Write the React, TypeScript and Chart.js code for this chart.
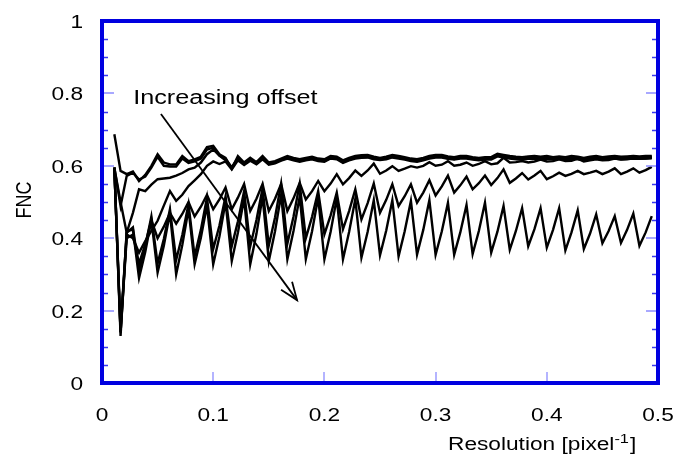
import React, { useEffect, useRef } from "react";
import { Chart, registerables } from "chart.js";

Chart.register(...registerables);

// Resolution [pixel^-1] sample positions
const resolution = [
  0.0111,
  0.0167, 0.0222, 0.0278, 0.0333, 0.0389, 0.0444, 0.05, 0.0556, 0.0611,
  0.0667, 0.0722, 0.0778, 0.0833, 0.0889, 0.0944, 0.1, 0.1056, 0.1111,
  0.1167, 0.1222, 0.1278, 0.1333, 0.1389, 0.1444, 0.15, 0.1556, 0.1611,
  0.1667, 0.1722, 0.1778, 0.1833, 0.1889, 0.1944, 0.2, 0.2056, 0.2111,
  0.2167, 0.2222, 0.2278, 0.2333, 0.2389, 0.2444, 0.25, 0.2556, 0.2611,
  0.2667, 0.2722, 0.2778, 0.2833, 0.2889, 0.2944, 0.3, 0.3056, 0.3111,
  0.3167, 0.3222, 0.3278, 0.3333, 0.3389, 0.3444, 0.35, 0.3556, 0.3611,
  0.3667, 0.3722, 0.3778, 0.3833, 0.3889, 0.3944, 0.4, 0.4056, 0.4111,
  0.4167, 0.4222, 0.4278, 0.4333, 0.4389, 0.4444, 0.45, 0.4556, 0.4611,
  0.4667, 0.4722, 0.4778, 0.4833, 0.4889, 0.4944,
];

// FNC curves, smallest offset first
const curve1 = [
  0.687,
  0.586, 0.577, 0.584, 0.558, 0.575, 0.6, 0.632, 0.609, 0.604,
  0.604, 0.627, 0.613, 0.618, 0.625, 0.652, 0.655, 0.632, 0.622,
  0.592, 0.627, 0.609, 0.622, 0.61, 0.627, 0.609, 0.613, 0.62,
  0.627, 0.622, 0.618, 0.622, 0.625, 0.62, 0.618, 0.627, 0.625,
  0.615, 0.622, 0.627, 0.629, 0.63, 0.625, 0.622, 0.625, 0.63,
  0.627, 0.624, 0.62, 0.618, 0.622, 0.627, 0.63, 0.63, 0.626,
  0.624, 0.627, 0.627, 0.624, 0.622, 0.624, 0.624, 0.633, 0.63,
  0.627, 0.625, 0.624, 0.626, 0.627, 0.625, 0.627, 0.624, 0.626,
  0.624, 0.627, 0.625, 0.622, 0.625, 0.627, 0.624, 0.626, 0.627,
  0.625, 0.626, 0.627, 0.626, 0.627, 0.627,
];

const curve2 = [
  0.595,
  0.489, 0.572, 0.581, 0.562, 0.57, 0.595, 0.625, 0.6, 0.598,
  0.598, 0.62, 0.608, 0.612, 0.62, 0.645, 0.65, 0.628, 0.618,
  0.596, 0.622, 0.605, 0.619, 0.608, 0.623, 0.606, 0.611, 0.617,
  0.624, 0.619, 0.615, 0.619, 0.622, 0.617, 0.615, 0.624, 0.622,
  0.612, 0.619, 0.624, 0.626, 0.627, 0.622, 0.62, 0.622, 0.627,
  0.624, 0.621, 0.617, 0.615, 0.619, 0.624, 0.627, 0.627, 0.623,
  0.621, 0.624, 0.624, 0.621, 0.619, 0.621, 0.621, 0.63, 0.627,
  0.624, 0.622, 0.621, 0.623, 0.624, 0.622, 0.624, 0.621, 0.623,
  0.621, 0.624, 0.622, 0.619, 0.622, 0.624, 0.621, 0.623, 0.624,
  0.622, 0.623, 0.624, 0.623, 0.624, 0.625,
];

const curve3 = [
  0.595,
  0.5, 0.415, 0.47, 0.535, 0.53, 0.548, 0.563, 0.565, 0.567,
  0.573, 0.58, 0.59, 0.595, 0.609, 0.632, 0.645, 0.628, 0.615,
  0.594, 0.62, 0.606, 0.617, 0.607, 0.621, 0.605, 0.609, 0.616,
  0.622, 0.617, 0.613, 0.617, 0.62, 0.615, 0.613, 0.622, 0.62,
  0.61, 0.617, 0.622, 0.624, 0.625, 0.62, 0.618, 0.62, 0.625,
  0.622, 0.619, 0.615, 0.613, 0.617, 0.622, 0.625, 0.625, 0.621,
  0.619, 0.622, 0.622, 0.619, 0.617, 0.619, 0.619, 0.628, 0.625,
  0.622, 0.62, 0.619, 0.621, 0.622, 0.62, 0.622, 0.619, 0.621,
  0.619, 0.622, 0.62, 0.617, 0.62, 0.622, 0.619, 0.621, 0.622,
  0.62, 0.621, 0.622, 0.621, 0.622, 0.623,
];

const curve4 = [
  0.595,
  0.14, 0.41, 0.4, 0.36, 0.392, 0.42, 0.448, 0.49, 0.53,
  0.503, 0.52, 0.544, 0.56, 0.577, 0.6, 0.612, 0.605, 0.612,
  0.59, 0.615, 0.602, 0.614, 0.604, 0.618, 0.603, 0.607, 0.614,
  0.62, 0.615, 0.611, 0.615, 0.618, 0.613, 0.611, 0.62, 0.618,
  0.608, 0.615, 0.62, 0.622, 0.623, 0.618, 0.616, 0.618, 0.623,
  0.62, 0.617, 0.613, 0.611, 0.615, 0.62, 0.623, 0.623, 0.619,
  0.617, 0.62, 0.62, 0.617, 0.615, 0.617, 0.617, 0.626, 0.623,
  0.62, 0.618, 0.617, 0.619, 0.62, 0.618, 0.62, 0.617, 0.619,
  0.617, 0.62, 0.618, 0.615, 0.618, 0.62, 0.617, 0.619, 0.62,
  0.618, 0.619, 0.62, 0.619, 0.62, 0.621,
];

const curve5 = [
  0.595,
  0.14, 0.4, 0.41, 0.33, 0.384, 0.45, 0.4, 0.432, 0.47,
  0.44, 0.467, 0.5, 0.46, 0.487, 0.52, 0.48, 0.507, 0.54,
  0.48, 0.512, 0.55, 0.475, 0.509, 0.55, 0.475, 0.509, 0.55,
  0.475, 0.51, 0.553, 0.507, 0.53, 0.558, 0.53, 0.551, 0.577,
  0.549, 0.566, 0.587, 0.572, 0.587, 0.606, 0.578, 0.587, 0.599,
  0.586, 0.592, 0.599, 0.595, 0.6, 0.61, 0.6, 0.603, 0.613,
  0.6, 0.603, 0.609, 0.6, 0.605, 0.613, 0.604, 0.607, 0.622,
  0.609, 0.61, 0.613, 0.609, 0.612, 0.617, 0.612, 0.613, 0.618,
  0.613, 0.614, 0.62, 0.612, 0.615, 0.618, 0.615, 0.616, 0.62,
  0.617, 0.618, 0.621, 0.62, 0.62, 0.622,
];

const curve6 = [
  0.595,
  0.15, 0.415, 0.43, 0.31, 0.378, 0.46, 0.33, 0.398, 0.48,
  0.34, 0.409, 0.494, 0.35, 0.423, 0.512, 0.37, 0.435, 0.515,
  0.378, 0.446, 0.53, 0.378, 0.45, 0.538, 0.38, 0.457, 0.551,
  0.385, 0.459, 0.55, 0.4, 0.459, 0.53, 0.411, 0.463, 0.526,
  0.425, 0.475, 0.535, 0.452, 0.497, 0.551, 0.47, 0.506, 0.549,
  0.489, 0.516, 0.549, 0.498, 0.526, 0.56, 0.518, 0.543, 0.573,
  0.526, 0.546, 0.57, 0.535, 0.552, 0.573, 0.547, 0.566, 0.59,
  0.553, 0.565, 0.58, 0.562, 0.573, 0.586, 0.563, 0.571, 0.581,
  0.572, 0.578, 0.586, 0.577, 0.581, 0.586, 0.577, 0.584, 0.593,
  0.577, 0.584, 0.593, 0.581, 0.588, 0.597,
];

const curve7 = [
  0.595,
  0.13, 0.42, 0.424, 0.29, 0.362, 0.45, 0.305, 0.379, 0.47,
  0.3, 0.381, 0.48, 0.328, 0.401, 0.49, 0.328, 0.405, 0.5,
  0.337, 0.415, 0.51, 0.328, 0.412, 0.515, 0.337, 0.419, 0.52,
  0.342, 0.42, 0.515, 0.342, 0.419, 0.512, 0.342, 0.418, 0.51,
  0.342, 0.417, 0.508, 0.346, 0.418, 0.505, 0.353, 0.421, 0.505,
  0.35, 0.419, 0.503, 0.355, 0.423, 0.505, 0.354, 0.419, 0.498,
  0.354, 0.416, 0.492, 0.356, 0.42, 0.498, 0.36, 0.418, 0.489,
  0.368, 0.42, 0.483, 0.378, 0.425, 0.483, 0.374, 0.423, 0.483,
  0.366, 0.416, 0.477, 0.37, 0.413, 0.466, 0.386, 0.42, 0.461,
  0.387, 0.423, 0.468, 0.379, 0.416, 0.461,
];

const curves = [curve1, curve2, curve3, curve4, curve5, curve6, curve7];

const xTickValues = [0, 0.1, 0.2, 0.3, 0.4, 0.5];
const xTickLabels = ["0", "0.1", "0.2", "0.3", "0.4", "0.5"];
const yTickValues = [0, 0.2, 0.4, 0.6, 0.8, 1];
const yTickLabels = ["0", "0.2", "0.4", "0.6", "0.8", "1"];
const yMinorValues = [0.05, 0.1, 0.15, 0.25, 0.3, 0.35, 0.45, 0.5, 0.55, 0.65, 0.7, 0.75, 0.85, 0.9, 0.95];

const yTitle = "FNC";
const xTitleMain = "Resolution [pixel";
const xTitleSup = "-1";
const xTitleEnd = "]";
const annotationText = "Increasing offset";
const annotationAt = { x: 0.028, y: 0.771 };
const arrowFrom = { x: 0.053, y: 0.743 };
const arrowTo = { x: 0.1754, y: 0.229 };

const SX = 1.26;
const FONT = '"Liberation Sans", Arial, Helvetica, sans-serif';
const BLUE = "#0000e0";

function stretchedText(
  ctx: CanvasRenderingContext2D,
  text: string,
  x: number,
  y: number,
  size: number,
  align: CanvasTextAlign = "left",
  baseline: CanvasTextBaseline = "alphabetic"
) {
  ctx.save();
  ctx.translate(x, y);
  ctx.scale(SX, 1);
  ctx.font = `${size}px ${FONT}`;
  ctx.textAlign = align;
  ctx.textBaseline = baseline;
  ctx.fillStyle = "#000";
  ctx.fillText(text, 0, 0);
  ctx.restore();
}

const framePlugin = {
  id: "frame",
  afterDraw(chart: any) {
    const ctx: CanvasRenderingContext2D = chart.ctx;
    const a = chart.chartArea;
    const xs = chart.scales.x;
    const ys = chart.scales.y;
    ctx.save();

    // minor y ticks (left and right, inward)
    ctx.lineWidth = 1.3;
    ctx.strokeStyle = "#3a3af0";
    yMinorValues.forEach((v) => {
      const py = Math.round(ys.getPixelForValue(v)) + 0.5;
      ctx.beginPath();
      ctx.moveTo(a.left, py);
      ctx.lineTo(a.left + 6, py);
      ctx.moveTo(a.right, py);
      ctx.lineTo(a.right - 6, py);
      ctx.stroke();
    });
    // major ticks
    ctx.strokeStyle = "#8c8cff";
    yTickValues.forEach((v) => {
      if (v === 0 || v === 1) return;
      const py = Math.round(ys.getPixelForValue(v));
      ctx.beginPath();
      ctx.moveTo(a.left, py);
      ctx.lineTo(a.left + 12, py);
      ctx.moveTo(a.right, py);
      ctx.lineTo(a.right - 12, py);
      ctx.stroke();
    });
    xTickValues.forEach((v) => {
      if (v === 0 || v === 0.5) return;
      const px = Math.round(xs.getPixelForValue(v));
      ctx.beginPath();
      ctx.moveTo(px, a.bottom);
      ctx.lineTo(px, a.bottom - 11);
      ctx.stroke();
    });

    // frame
    ctx.strokeStyle = BLUE;
    ctx.lineWidth = 4;
    ctx.strokeRect(a.left, a.top, a.right - a.left, a.bottom - a.top);

    // tick labels
    yTickValues.forEach((v, i) => {
      stretchedText(ctx, yTickLabels[i], 83, ys.getPixelForValue(v) + 2, 18, "right", "middle");
    });
    xTickValues.forEach((v, i) => {
      stretchedText(ctx, xTickLabels[i], xs.getPixelForValue(v), 416.5, 18, "center", "middle");
    });

    // y title (rotated)
    ctx.save();
    ctx.translate(24.7, 200);
    ctx.scale(SX, 1);
    ctx.rotate(-Math.PI / 2);
    ctx.font = `18px ${FONT}`;
    ctx.textAlign = "center";
    ctx.textBaseline = "middle";
    ctx.fillStyle = "#000";
    ctx.fillText(yTitle, 0, 0);
    ctx.restore();

    // x title with superscript
    let tx = 448;
    ctx.font = `18px ${FONT}`;
    stretchedText(ctx, xTitleMain, tx, 450, 18);
    tx += ctx.measureText(xTitleMain).width * SX;
    ctx.font = `13px ${FONT}`;
    stretchedText(ctx, xTitleSup, tx, 443, 13);
    tx += ctx.measureText(xTitleSup).width * SX + 1;
    stretchedText(ctx, xTitleEnd, tx, 450, 18);

    // annotation
    stretchedText(ctx, annotationText, xs.getPixelForValue(annotationAt.x), ys.getPixelForValue(annotationAt.y), 20);
    const x0 = xs.getPixelForValue(arrowFrom.x);
    const y0 = ys.getPixelForValue(arrowFrom.y);
    const x1 = xs.getPixelForValue(arrowTo.x);
    const y1 = ys.getPixelForValue(arrowTo.y);
    ctx.strokeStyle = "#000";
    ctx.lineWidth = 1.8;
    ctx.beginPath();
    ctx.moveTo(x0, y0);
    ctx.lineTo(x1, y1);
    ctx.stroke();
    const ang = Math.atan2(y1 - y0, x1 - x0);
    const hl = 19;
    const ha = (21 * Math.PI) / 180;
    ctx.beginPath();
    ctx.moveTo(x1 - hl * Math.cos(ang - ha), y1 - hl * Math.sin(ang - ha));
    ctx.lineTo(x1, y1);
    ctx.lineTo(x1 - hl * Math.cos(ang + ha), y1 - hl * Math.sin(ang + ha));
    ctx.stroke();

    ctx.restore();
  },
};

export default function App() {
  const ref = useRef<HTMLCanvasElement>(null);
  useEffect(() => {
    const datasets = curves.map((c, i) => ({
      label: `offset ${i + 1}`,
      data: resolution.map((x, j) => ({ x, y: c[j] })),
      borderColor: "#000",
      backgroundColor: "#000",
      borderWidth: 2.4,
      pointRadius: 0,
      tension: 0,
      fill: false,
    }));
    const chart = new Chart(ref.current as HTMLCanvasElement, {
      type: "line",
      data: { datasets },
      options: {
        animation: false,
        responsive: false,
        events: [],
        layout: { padding: { top: 21, right: 20, left: 0, bottom: 0 } },
        plugins: { legend: { display: false }, tooltip: { enabled: false } },
        scales: {
          x: {
            type: "linear",
            min: 0,
            max: 0.5,
            grid: { display: false },
            border: { display: false },
            ticks: { display: false },
            afterFit(s: any) {
              s.height = 73;
            },
          },
          y: {
            type: "linear",
            min: 0,
            max: 1,
            grid: { display: false },
            border: { display: false },
            ticks: { display: false },
            afterFit(s: any) {
              s.width = 102;
            },
          },
        },
      },
      plugins: [framePlugin],
    } as any);
    return () => chart.destroy();
  }, []);
  return (
    <div style={{ position: "absolute", left: 0, top: 0, width: 678, height: 456, background: "#fff" }}>
      <canvas ref={ref} width={678} height={456} style={{ display: "block", width: 678, height: 456 }} />
    </div>
  );
}
